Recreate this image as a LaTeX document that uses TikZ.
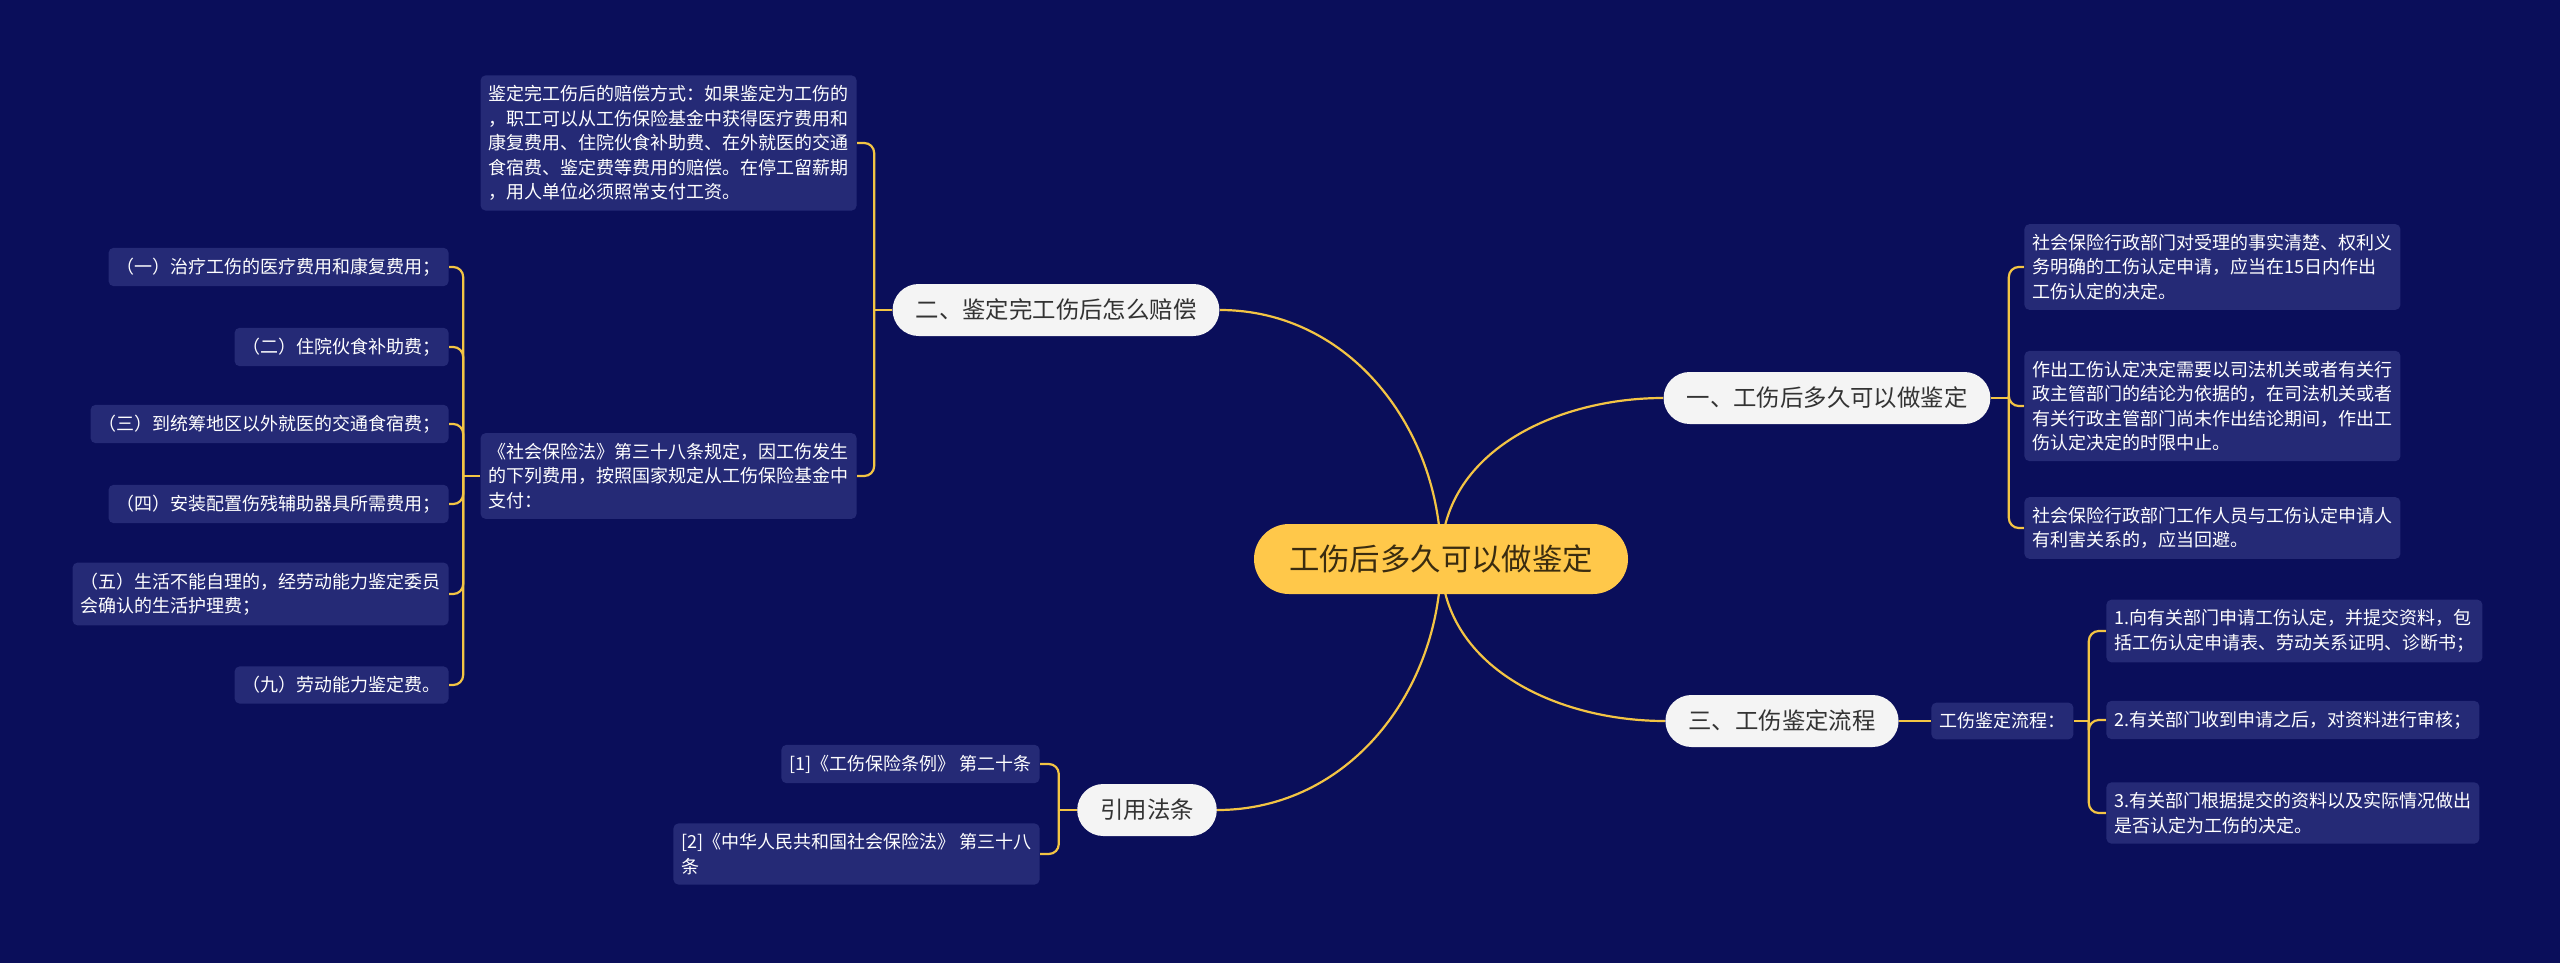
\documentclass[tikz,border=0pt]{standalone}
\usepackage{fontspec}
\setmainfont{Noto Sans CJK SC}
\usetikzlibrary{backgrounds}
\definecolor{navy}{HTML}{0A0E5A}
\definecolor{leafblue}{HTML}{252A76}
\definecolor{topicgrey}{HTML}{F4F4F4}
\definecolor{topictext}{HTML}{333333}
\definecolor{rootgold}{HTML}{FFC84A}
\definecolor{roottext}{HTML}{3A2C10}
\definecolor{linkgold}{HTML}{F3C444}
\tikzset{leaf/.style={fill=leafblue, text=white, rounded corners=2.5pt, inner xsep=4pt, inner ysep=5pt, align=left, font=\fontsize{9}{12.25}\selectfont}}
\tikzset{topic/.style={fill=topicgrey, text=topictext, rounded corners=13pt, minimum height=26pt, inner xsep=11.5pt, font=\fontsize{11.7}{14}\selectfont}}
\tikzset{root/.style={fill=rootgold, text=roottext, rounded corners=17.5pt, minimum height=35pt, inner xsep=17.5pt, font=\fontsize{15.2}{18}\selectfont}}
\tikzset{link/.style={draw=linkgold, line width=1.1pt}}
\tikzset{brace/.style={link, rounded corners=5pt}}

\begin{document}
\begin{tikzpicture}[x=0.5pt, y=-0.5pt]
% centre and main topics
\node [root] (root) at (1441,559) {工伤后多久可以做鉴定};
\node [topic] (t1) at (1827,398) {一、工伤后多久可以做鉴定};
\node [topic] (t2) at (1056,310) {二、鉴定完工伤后怎么赔偿};
\node [topic] (t3) at (1782,721) {三、工伤鉴定流程};
\node [topic] (t4) at (1147,810) {引用法条};

% topic one
\node [leaf, anchor=west] (a1) at (2024,267) {社会保险行政部门对受理的事实清楚、权利义\\务明确的工伤认定申请，应当在15日内作出\\工伤认定的决定。};
\node [leaf, anchor=west] (a2) at (2024,406) {作出工伤认定决定需要以司法机关或者有关行\\政主管部门的结论为依据的，在司法机关或者\\有关行政主管部门尚未作出结论期间，作出工\\伤认定决定的时限中止。};
\node [leaf, anchor=west] (a3) at (2024,528) {社会保险行政部门工作人员与工伤认定申请人\\有利害关系的，应当回避。};

% topic two
\node [leaf, anchor=east] (b1) at (857,143) {鉴定完工伤后的赔偿方式：如果鉴定为工伤的\\，职工可以从工伤保险基金中获得医疗费用和\\康复费用、住院伙食补助费、在外就医的交通\\食宿费、鉴定费等费用的赔偿。在停工留薪期\\，用人单位必须照常支付工资。};
\node [leaf, anchor=east] (b2) at (857,476) {《社会保险法》第三十八条规定，因工伤发生\\的下列费用，按照国家规定从工伤保险基金中\\支付：};
\foreach \n/\y/\t in {c1/267/{（一）治疗工伤的医疗费用和康复费用；},
                      c2/347/{（二）住院伙食补助费；},
                      c3/424/{（三）到统筹地区以外就医的交通食宿费；},
                      c4/504/{（四）安装配置伤残辅助器具所需费用；},
                      c5/594/{（五）生活不能自理的，经劳动能力鉴定委员\\会确认的生活护理费；},
                      c6/685/{（九）劳动能力鉴定费。}} {
  \node [leaf, anchor=east] (\n) at (449,\y) {\t};
}

% topic three
\node [leaf, anchor=west] (flow) at (1931,721) {工伤鉴定流程：};
\node [leaf, anchor=west] (d1) at (2106,631) {1.向有关部门申请工伤认定，并提交资料，包\\括工伤认定申请表、劳动关系证明、诊断书；};
\node [leaf, anchor=west] (d2) at (2106,720) {2.有关部门收到申请之后，对资料进行审核；};
\node [leaf, anchor=west] (d3) at (2106,813) {3.有关部门根据提交的资料以及实际情况做出\\是否认定为工伤的决定。};

% references
\node [leaf, anchor=east] (e1) at (1040,764) {[1]《工伤保险条例》 第二十条};
\node [leaf, anchor=east] (e2) at (1040,854) {[2]《中华人民共和国社会保险法》 第三十八\\条};

% spines
\path (t1.east) ++(18,0) coordinate (s1);
\path (t2.west) ++(-18,0) coordinate (s2);
\path (b2.west) ++(-17,0) coordinate (s3);
\path (flow.east) ++(15,0) coordinate (s4);
\path (t4.west) ++(-18,0) coordinate (s5);

\begin{scope}[on background layer]
\fill [navy] (0,0) rectangle (2560,963);
\draw [link] (root.center) to [out=90, in=180] (t1.west);
\draw [link] (root.center) to [out=90, in=0] (t2.east);
\draw [link] (root.center) to [out=-90, in=180] (t3.west);
\draw [link] (root.center) to [out=-90, in=0] (t4.east);
\draw [link] (t1.east) -- (s1);
\draw [link] (t2.west) -- (s2);
\draw [link] (b2.west) -- (s3);
\draw [link] (t3.east) -- (flow.west);
\draw [link] (flow.east) -- (s4);
\draw [link] (t4.west) -- (s5);
\foreach \x in {a1,a2,a3} \draw [brace] (s1) |- (\x.west);
\foreach \x in {b1,b2} \draw [brace] (s2) |- (\x.east);
\foreach \x in {c1,c2,c3,c4,c5,c6} \draw [brace] (s3) |- (\x.east);
\foreach \x in {d1,d2,d3} \draw [brace] (s4) |- (\x.west);
\foreach \x in {e1,e2} \draw [brace] (s5) |- (\x.east);
\end{scope}
\end{tikzpicture}
\end{document}
